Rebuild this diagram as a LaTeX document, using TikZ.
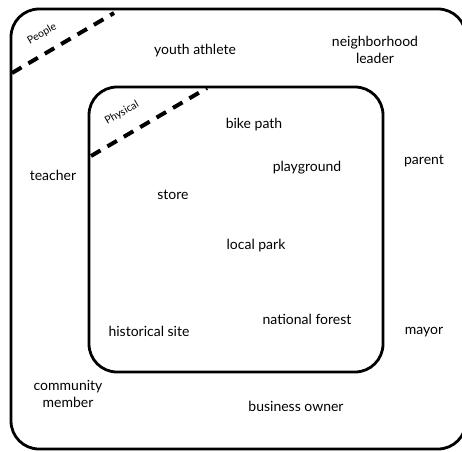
\documentclass[tikz,border=0pt]{standalone}
\usepackage{fontspec}
\setmainfont{Lato}
\begin{document}
\begin{tikzpicture}[x=1pt,y=-1pt,
  box/.style={line width=2.8pt, rounded corners=28pt},
  divider/.style={line width=4pt, dash pattern=on 11pt off 8pt},
  lbl/.style={font=\fontsize{14}{17}\selectfont, align=center, inner sep=0pt},
  tag/.style={font=\fontsize{10.5}{12}\selectfont, inner sep=0pt, rotate=30}]
\useasboundingbox (0,0) rectangle (462,451);
\begin{scope}
\clip (0,0) rectangle (462,451);
\draw[box] (11,9) rectangle (466,449);
\end{scope}
\draw[box] (89,87) rectangle (383,372);
\coordinate (p1) at (12,73);
\coordinate (p2) at (114,13);
\coordinate (q1) at (91,156);
\coordinate (q2) at (207,88);
\draw[divider] (p1) -- (p2);
\draw[divider] (q1) -- (q2);
\node[tag] (people) at (42,34) {People};
\node[tag] (physical) at (122,113) {Physical};
\node[lbl] (ya) at (195,51) {youth athlete};
\node[lbl] (nl) at (375,50) {neighborhood\\leader};
\node[lbl] (bp) at (254,125) {bike path};
\node[lbl] (pg) at (307,168) {playground};
\node[lbl] (pa) at (424,161) {parent};
\node[lbl] (te) at (53,175) {teacher};
\node[lbl] (st) at (173,195) {store};
\node[lbl] (lp) at (256,246) {local park};
\node[lbl] (nf) at (307,319) {national forest};
\node[lbl] (hs) at (149,331) {historical site};
\node[lbl] (ma) at (424,332) {mayor};
\node[lbl] (cm) at (68,394) {community\\member};
\node[lbl] (bo) at (296,406) {business owner};
\end{tikzpicture}
\end{document}
